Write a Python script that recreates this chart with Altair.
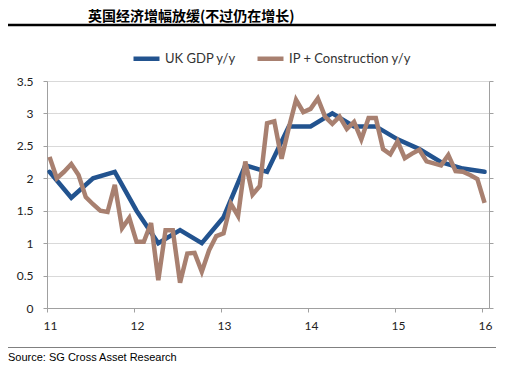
import altair as alt
import pandas as pd

title_text = "英国经济增幅放缓(不过仍在增长)"
source_text = "Source: SG Cross Asset Research"
series_names = ["UK GDP y/y", "IP + Construction y/y"]
series_colors = ["#22538F", "#A88070"]

# quarterly UK GDP y/y, Q1 2011 .. Q1 2016
gdp_values = [2.1, 1.7, 2.0, 2.1, 1.5, 1.0, 1.2, 1.0, 1.4, 2.2, 2.1,
              2.8, 2.8, 3.0, 2.8, 2.8, 2.6, 2.45, 2.25, 2.15, 2.1]
# monthly IP + construction y/y, Jan 2011 .. Jan 2016
ipc_values = [2.33, 2.0, 2.1, 2.22, 2.05, 1.71, 1.6, 1.5, 1.48, 1.9, 1.23, 1.39,
              1.02, 1.02, 1.31, 0.43, 1.2, 1.2, 0.39, 0.84, 0.85, 0.56, 0.89, 1.11,
              1.15, 1.61, 1.42, 2.26, 1.75, 1.88, 2.85, 2.88, 2.3, 2.78, 3.21, 3.02,
              3.07, 3.23, 2.95, 2.84, 2.95, 2.76, 2.87, 2.6, 2.93, 2.93, 2.45, 2.37,
              2.57, 2.31, 2.38, 2.44, 2.26, 2.23, 2.2, 2.36, 2.11, 2.1, 2.05, 1.99,
              1.62]
x_ticks = [11, 12, 13, 14, 15, 16]
y_ticks = [0, 0.5, 1, 1.5, 2, 2.5, 3, 3.5]

gdp_df = pd.DataFrame({
    "t": [11 + (3 * i + 0.35) / 12 for i in range(len(gdp_values))],
    "v": gdp_values,
    "series": series_names[0],
})
ipc_df = pd.DataFrame({
    "t": [11 + (i + 0.35) / 12 for i in range(len(ipc_values))],
    "v": ipc_values,
    "series": series_names[1],
})

W, H = 442, 227
FONT = "Lato"

xscale = alt.Scale(domain=[11, 16.08], nice=False, zero=False)
yscale = alt.Scale(domain=[0, 3.5], nice=False)

x_enc = alt.X("t:Q", scale=xscale, title=None,
              axis=alt.Axis(values=x_ticks, format="d", grid=False,
                            domainColor="#A0A0A0", tickColor="#A0A0A0",
                            tickSize=4, labelPadding=8, labelFont=FONT,
                            labelFontSize=12, labelColor="#222",
                            labelOffset=3, labelFlush=False))
y_left = alt.Y("v:Q", scale=yscale, title=None,
               axis=alt.Axis(values=y_ticks, format="~g", grid=True,
                             gridColor="#D9D9D9", domainColor="#A0A0A0",
                             tickColor="#A0A0A0", tickSize=4, labelPadding=10,
                             labelFont=FONT, labelFontSize=12, labelColor="#222"))
y_right = alt.Y("v:Q", scale=yscale, title=None,
                axis=alt.Axis(orient="right", values=y_ticks, grid=False,
                              labels=False, domainColor="#A0A0A0",
                              tickColor="#A0A0A0", tickSize=4))

color_scale = alt.Scale(domain=series_names, range=series_colors)
legend = alt.Legend(orient="none", legendX=84, legendY=-38, direction="horizontal",
                    title=None, symbolType="stroke", symbolSize=676,
                    symbolStrokeWidth=4.5, labelFont=FONT, labelFontSize=13,
                    labelColor="#333", labelOffset=3, columnPadding=12)
color_enc = alt.Color("series:N", scale=color_scale, legend=legend)

gdp_line = alt.Chart(gdp_df).mark_line(strokeWidth=4.5, strokeCap="round").encode(
    x=x_enc, y=y_left, color=color_enc,
)
ipc_line = alt.Chart(ipc_df).mark_line(strokeWidth=4.5, strokeCap="butt").encode(
    x=x_enc, y=y_right, color=color_enc,
)

one = pd.DataFrame({"a": [0]})
title_mark = alt.Chart(pd.DataFrame({"s": [title_text]})).mark_text(
    font="Noto Sans CJK SC", fontSize=14, fontWeight="bold", color="#000",
    align="left", baseline="alphabetic").encode(
    text="s:N", x=alt.value(41), y=alt.value(-60))
title_rule = alt.Chart(one).mark_rule(color="#000", strokeWidth=2.5).encode(
    x=alt.value(-42), x2=alt.value(449), y=alt.value(-56))
source_rule = alt.Chart(one).mark_rule(color="#808080", strokeWidth=1).encode(
    x=alt.value(-42), x2=alt.value(449), y=alt.value(266.5))
source_mark = alt.Chart(pd.DataFrame({"s": [source_text]})).mark_text(
    font="Liberation Sans", fontSize=11, color="#000",
    align="left", baseline="alphabetic").encode(
    text="s:N", x=alt.value(-39), y=alt.value(280))

chart = alt.layer(gdp_line, ipc_line, title_mark, title_rule, source_rule, source_mark).resolve_axis(
    y="independent"
).properties(
    width=W, height=H,
    autosize=alt.AutoSizeParams(type="none"),
    padding={"left": 39, "top": 73, "right": 10, "bottom": 56},
).configure_view(stroke=None)

chart.save("out.html", embed_options={"renderer": "svg", "actions": False})
